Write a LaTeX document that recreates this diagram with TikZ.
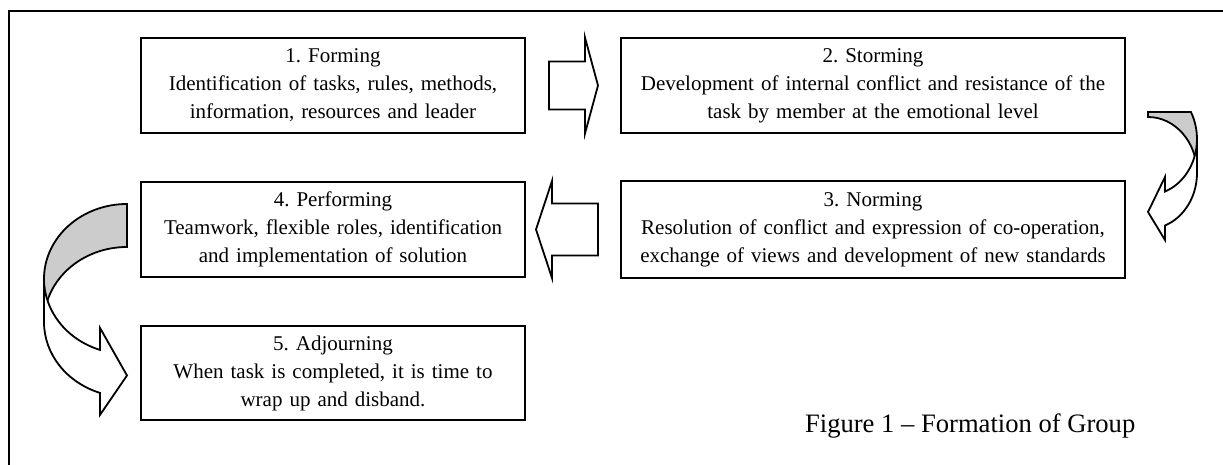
\documentclass[tikz,border=0pt]{standalone}
\usepackage{fontspec}
\setmainfont{Liberation Serif}
\usetikzlibrary{calc}
\frenchspacing

\begin{document}
\begin{tikzpicture}[x=0.5pt,y=-0.5pt,
  stagebox/.style={draw, line width=1pt, inner sep=0pt, align=center,
    anchor=north west, font=\fontsize{10.5}{14}\selectfont},
  blockarrow/.style={draw, line width=0.9pt, fill=white, line join=miter},
  backface/.style={draw, line width=0.9pt, fill=black!20},
  frontface/.style={draw, line width=0.9pt, fill=white},
  caption/.style={anchor=base west, font=\fontsize{13.3}{16}\selectfont}]

\useasboundingbox (0,0) rectangle (1223,465);
\fill[white] (0,0) rectangle (1223,465);

% outer frame (runs past the right and bottom edges)
\draw[line width=1pt] (9,480) -- (9,11) -- (1240,11);

% stage boxes
\node[stagebox, text width=192pt, minimum height=47.5pt] (b1) at (140,37)
  {1. Forming\\Identification of tasks, rules, methods,\\information, resources and leader};
\node[stagebox, text width=252pt, minimum height=47.5pt] (b2) at (620,37)
  {2. Storming\\Development of internal conflict and resistance of the\\task by member at the emotional level};
\node[stagebox, text width=252pt, minimum height=48.5pt] (b3) at (620,180)
  {3. Norming\\Resolution of conflict and expression of co-operation,\\exchange of views and development of new standards};
\node[stagebox, text width=192pt, minimum height=47.5pt] (b4) at (140,181)
  {4. Performing\\Teamwork, flexible roles, identification\\and implementation of solution};
\node[stagebox, text width=192pt, minimum height=47pt] (b5) at (140,325)
  {5. Adjourning\\When task is completed, it is time to\\wrap up and disband.};

% straight block arrows between neighbouring boxes
\coordinate (m12) at ($(b1.east)!0.5!(b2.west)$);
\draw[blockarrow] ($(m12)+(-24,-24)$) -- ++(36,0) -- ++(0,-24)
  -- ($(m12)+(25,0)$) -- ($(m12)+(12,48)$) -- ++(0,-24) -- ++(-36,0) -- cycle;

\coordinate (m34) at ($(b4.east)!0.5!(b3.west)$);
\draw[blockarrow] ($(m34)+(25,-26)$) -- ++(-46,0) -- ++(0,-22.5)
  -- ($(m34)+(-37,0)$) -- ($(m34)+(-21,48.5)$) -- ++(0,-22.5) -- ++(46,0) -- cycle;

% curved arrow from Storming down to Norming (tail cut off flat at the top)
\path[backface] (1148,112) -- (1190.9,112)
  arc[start angle=331.17, end angle=360, x radius=49, y radius=56]
  -- (1197,173) arc[start angle=0, end angle=-90, x radius=49, y radius=56] -- cycle;
\path[frontface] (1197,139) arc[start angle=0, end angle=69.70, x radius=49, y radius=56]
  -- (1165,177) -- (1148,212) -- (1165,240) -- (1165,225.5)
  arc[start angle=69.70, end angle=0, x radius=49, y radius=56] -- cycle;

% curved arrow from Performing down to Adjourning
\path[backface] (127,204) arc[start angle=270, end angle=180, x radius=83, y radius=75]
  -- (44,322) arc[start angle=180, end angle=270, x radius=83, y radius=75] -- cycle;
\path[frontface] (44,279) arc[start angle=180, end angle=108.98, x radius=83, y radius=75]
  -- (100,327.9) -- (127,375.5) -- (100,414.9) -- (100,392.9)
  arc[start angle=108.98, end angle=180, x radius=83, y radius=75] -- cycle;

% caption
\node[caption] (cap) at (798,432) {Figure 1 – Formation of Group};

\end{tikzpicture}
\end{document}
